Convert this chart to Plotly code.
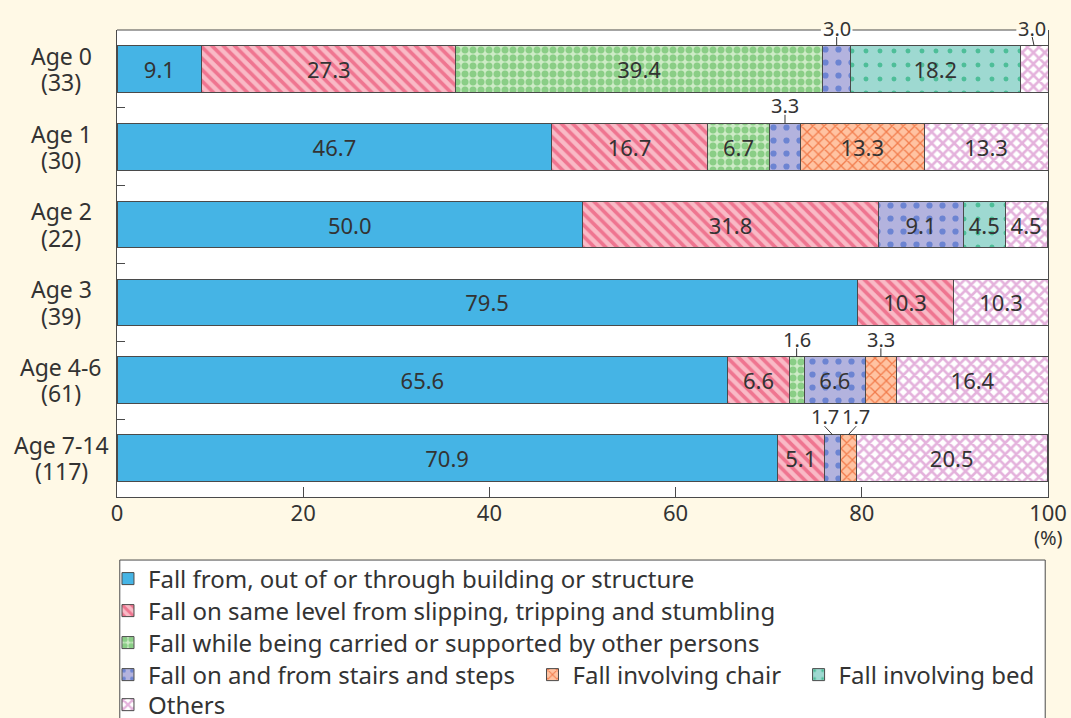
import plotly.graph_objects as go

# ---------------- data ----------------
categories = ["Age 0", "Age 1", "Age 2", "Age 3", "Age 4-6", "Age 7-14"]
counts = [33, 30, 22, 39, 61, 117]

series_names = [
    "Fall from, out of or through building or structure",
    "Fall on same level from slipping, tripping and stumbling",
    "Fall while being carried or supported by other persons",
    "Fall on and from stairs and steps",
    "Fall involving chair",
    "Fall involving bed",
    "Others",
]
building = [9.1, 46.7, 50.0, 79.5, 65.6, 70.9]
same_level = [27.3, 16.7, 31.8, 10.3, 6.6, 5.1]
carried = [39.4, 6.7, 0, 0, 1.6, 0]
stairs = [3.0, 3.3, 9.1, 0, 6.6, 1.7]
chair = [0, 13.3, 0, 0, 3.3, 1.7]
bed = [18.2, 0, 4.5, 0, 0, 0]
others = [3.0, 13.3, 4.5, 10.3, 16.4, 20.5]
series_values = [building, same_level, carried, stairs, chair, bed, others]

x_ticks = [0, 20, 40, 60, 80, 100]

# ---------------- styles ----------------
FONT = "Noto Sans"
TXT = "#333333"
LINE = "#4a4a4a"
PAGE = "#FFF9E6"

styles = [
    dict(color="#45B4E5", pattern=None),
    dict(color="#F9BAC6", pattern=dict(shape="\\", fgcolor="#EF7590", bgcolor="#F9BAC6", size=8, solidity=0.45, fillmode="replace")),
    dict(color="#C8E8C0", pattern=dict(shape=".", fgcolor="#8ACE86", bgcolor="#CDEBC6", size=8, solidity=0.6, fillmode="replace")),
    dict(color="#B3B3DE", pattern=dict(shape=".", fgcolor="#6C84D2", bgcolor="#B3B3DE", size=13, solidity=0.18, fillmode="replace")),
    dict(color="#FFC3A2", pattern=dict(shape="x", fgcolor="#F27C4C", bgcolor="#FFC3A2", size=8, solidity=0.3, fillmode="replace")),
    dict(color="#9ED9D1", pattern=dict(shape=".", fgcolor="#4DBE98", bgcolor="#9ED9D1", size=14, solidity=0.1, fillmode="replace")),
    dict(color="#FFFFFF", pattern=dict(shape="x", fgcolor="#E4B2DC", bgcolor="#FFFFFF", size=8, solidity=0.55, fillmode="replace")),
]
legend_of = ["legend", "legend2", "legend3", "legend4", "legend4", "legend4", "legend5"]
legend_pad = ["", "", "", "\u00a0\u00a0", "\u00a0\u00a0", "", ""]

INSIDE_MIN = 4.0
ypos = list(range(len(categories)))

fig = go.Figure()
for name, vals, st, lg, pad in zip(series_names, series_values, styles, legend_of, legend_pad):
    xs = [v if v > 0 else None for v in vals]
    txt = [f"{v:.1f}" if v >= INSIDE_MIN else "" for v in vals]
    marker = dict(color=st["color"], line=dict(color=LINE, width=1))
    if st["pattern"]:
        marker["pattern"] = st["pattern"]
    fig.add_trace(go.Bar(
        x=xs, y=ypos, orientation="h", name=name + pad, marker=marker,
        text=txt, textposition="inside", insidetextanchor="middle", textangle=0,
        textfont=dict(size=22, color=TXT, family=FONT),
        width=0.6, legend=lg, hoverinfo="skip",
    ))

# ---------------- outside labels with leaders ----------------
annotations = []
shapes = []
SEP = 3.4
top_gaps = []
for i in range(len(categories)):
    cum = 0.0
    small = []
    for vals in series_values:
        v = vals[i]
        if 0 < v < INSIDE_MIN:
            small.append([cum + v / 2, v])
        cum += v
    pos = [m for m, _ in small]
    for k in range(1, len(pos)):
        if pos[k] - pos[k - 1] < SEP:
            c = (small[k][0] + small[k - 1][0]) / 2
            pos[k - 1] = c - SEP / 2
            pos[k] = c + SEP / 2
    pos = [min(p, 98.3) for p in pos]
    for (mid, v), p in zip(small, pos):
        if i == 0:
            ann = dict(x=p, y=1, xref="x", yref="paper", yshift=2)
            top_gaps.append(p)
        else:
            ann = dict(x=p, y=i - 0.53, xref="x", yref="y")
        ann.update(text=f"{v:.1f}", showarrow=False, yanchor="middle",
                   font=dict(size=20, color=TXT, family=FONT))
        annotations.append(ann)
        shapes.append(dict(type="line", xref="x", yref="y", x0=p, x1=mid, y0=i - 0.41, y1=i - 0.3,
                           line=dict(color=TXT, width=1)))

# top border with gaps for the labels that sit on it
segs = []
start = 0
for g in sorted(top_gaps):
    segs.append((start, g - 1.7))
    start = g + 1.7
segs.append((start, 100))
for a, b in segs:
    if b > a:
        shapes.append(dict(type="line", xref="x", yref="paper", x0=a, x1=b, y0=1, y1=1,
                           line=dict(color=LINE, width=1)))

# category labels (two centered lines)
for i, (c, n) in enumerate(zip(categories, counts)):
    annotations.append(dict(x=0, xref="paper", xshift=-56, y=i - 0.17, yref="y", text=c,
                            showarrow=False, xanchor="center", font=dict(size=23, color=TXT, family=FONT)))
    annotations.append(dict(x=0, xref="paper", xshift=-56, y=i + 0.17, yref="y", text=f"({n})",
                            showarrow=False, xanchor="center", font=dict(size=23, color=TXT, family=FONT)))

annotations.append(dict(x=100, xref="x", y=-0.086, yref="paper", text="(%)", showarrow=False,
                        xanchor="center", yanchor="middle", font=dict(size=20, color=TXT, family=FONT)))

# legend box
shapes.append(dict(type="rect", xref="paper", yref="paper", x0=0.003, x1=0.997, y0=-0.135, y1=-0.6,
                   fillcolor="white", line=dict(color=LINE, width=1), layer="below"))

leg_common = dict(orientation="h", x=-0.0097, xanchor="left", yanchor="middle",
                  bgcolor="rgba(0,0,0,0)", font=dict(size=24, color=TXT, family=FONT),
                  traceorder="normal", itemclick=False)
row_y = [-0.1756, -0.2441, -0.3126, -0.3812, -0.4455]

fig.update_layout(
    width=1071, height=718, autosize=False,
    margin=dict(l=117, r=23, t=30, b=221, autoexpand=False),
    paper_bgcolor=PAGE, plot_bgcolor="white",
    barmode="stack",
    font=dict(family=FONT, color=TXT),
    xaxis=dict(range=[0, 100], tickvals=x_ticks, ticks="inside", ticklen=10, tickcolor=LINE,
               showline=True, linecolor=LINE, mirror=False, showgrid=False, zeroline=False,
               ticklabelstandoff=-3,
               tickfont=dict(size=22, color=TXT, family=FONT), fixedrange=True),
    yaxis=dict(range=[5.5, -0.5], tickvals=[k - 0.5 for k in range(len(categories))], ticks="inside",
               ticklen=8, tickcolor=LINE, showticklabels=False, showline=True, linecolor=LINE,
               mirror=True, showgrid=False, zeroline=False, fixedrange=True),
    legend=dict(leg_common, y=row_y[0]),
    legend2=dict(leg_common, y=row_y[1]),
    legend3=dict(leg_common, y=row_y[2]),
    legend4=dict(leg_common, y=row_y[3]),
    legend5=dict(leg_common, y=row_y[4]),
    annotations=annotations,
    shapes=shapes,
    showlegend=True,
)

fig.write_html(
    "out.html",
    config={"displayModeBar": False, "responsive": False},
    post_script="document.body.style.margin='0';document.body.style.padding='0';"
                "document.body.style.overflow='hidden';document.body.style.background='" + PAGE + "';",
)
